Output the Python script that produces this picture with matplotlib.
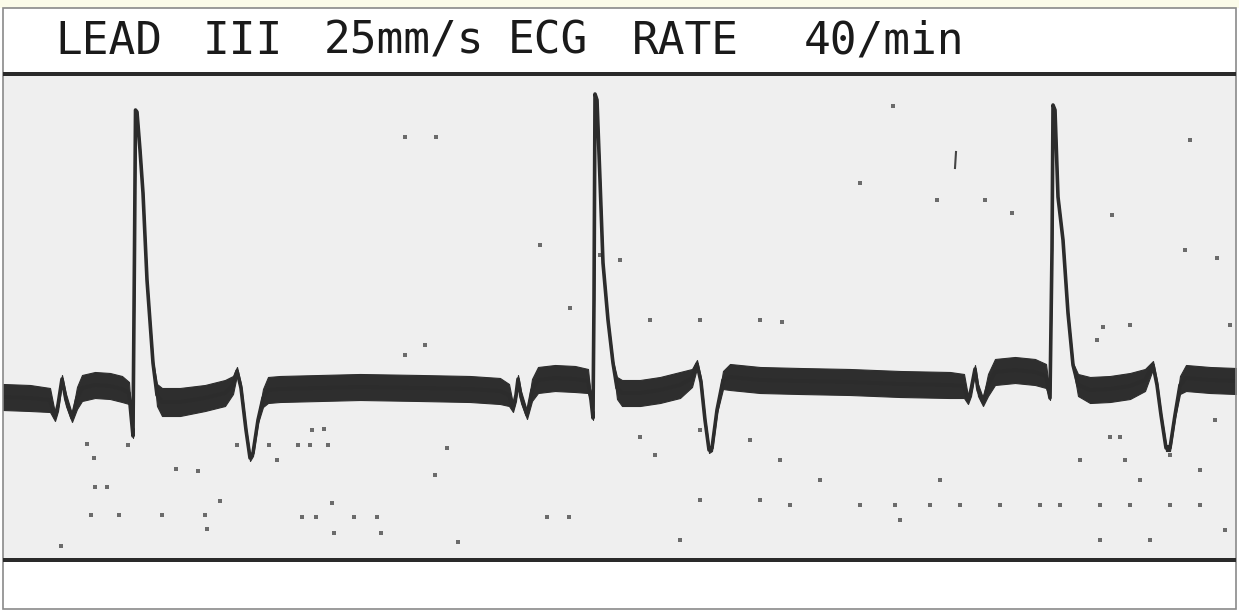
import matplotlib
matplotlib.use("Agg")
import matplotlib.pyplot as plt
from matplotlib.patches import Rectangle
import numpy as np

# ---------------- data ----------------
title_words = ["LEAD", "III", "25mm/s", "ECG", "RATE", "40/min"]
title_word_x = [55, 203, 324, 508, 632, 804]   # left edge of each word cell (px)

# ECG trace: sample index (x) and amplitude (counts, + = up)
sample = [3, 30, 50, 55, 58, 62, 66, 72, 77, 82, 95, 110, 122, 129, 131, 133,
          134.5, 135.5, 137, 140, 143, 147, 153, 157, 162, 180, 205, 225, 233,
          237, 241, 246, 250, 253, 258, 263, 268, 280, 320, 360, 420, 470, 500,
          509, 513, 516, 518, 521, 527, 532, 538, 555, 575, 588, 591, 593, 594,
          595, 597, 600, 603, 608, 613, 617, 622, 640, 660, 680, 692, 697, 701,
          705, 709, 712, 717, 723, 730, 760, 800, 850, 900, 950, 964, 968, 971,
          975, 978, 983, 988, 995, 1015, 1035, 1046, 1050, 1052, 1053, 1055,
          1058, 1063, 1068, 1073, 1078, 1090, 1110, 1130, 1145, 1153, 1157,
          1161, 1166, 1170, 1175, 1180, 1186, 1210, 1236]
amplitude = [3, 2, 0, -17, -5, 21, 0, -18, 2, 12, 15, 14, 11, 7, -15, -36,
             150, 290, 288, 250, 207, 120, 37, 5, -2, -2, 2, 7, 15,
             29, 12, -30, -58, -53, -20, 2, 10, 11, 12, 13, 12, 11, 9,
             5, -8, 5, 21, 3, -15, 10, 20, 22, 21, 19, 0, -18, 100,
             306, 300, 220, 137, 80, 37, 12, 7, 7, 10, 15, 22, 36, 18,
             -20, -50, -48, -10, 20, 23, 20, 19, 18, 16, 15, 14, 0, 10,
             31, 10, -2, 15, 28, 30, 28, 24, 2, 150, 295, 290,
             203, 160, 87, 35, 15, 10, 11, 14, 20, 35, 15,
             -15, -48, -48, -15, 15, 22, 20, 19]
# half-height of the noisy trace band (counts)
noise_env = [13, 13, 12, 4, 6, 4, 6, 4, 11, 13, 13, 13, 13, 11, 2, 2,
             1, 1, 1, 1, 1, 1, 2, 11, 14, 14, 13, 13, 9,
             4, 4, 2, 3, 3, 3, 9, 13, 13, 13, 13, 13, 13, 13,
             11, 4, 6, 4, 6, 4, 11, 13, 13, 13, 12, 2, 2, 1,
             1, 1, 1, 1, 1, 2, 11, 13, 13, 13, 13, 9, 4, 4,
             2, 3, 3, 3, 9, 13, 13, 13, 13, 13, 13, 12, 4, 6,
             4, 6, 4, 11, 13, 13, 13, 12, 2, 1, 1, 1,
             1, 1, 1, 2, 11, 13, 13, 13, 11, 4, 4,
             2, 3, 3, 3, 9, 13, 13, 13]

# scanner specks on the strip (x sample, amplitude counts)
speck_x = [405, 436, 540, 650, 700, 760, 782, 860, 893, 937, 985, 1012, 1112,
           1190, 1185, 1217, 1230, 1130, 1103, 1097, 405, 425, 570, 600, 620,
           87, 128, 94, 176, 198, 95, 107, 220, 237, 269, 298, 310, 328, 277,
           312, 324, 332, 205, 302, 316, 354, 377, 207, 334, 458, 61, 569, 547,
           447, 435, 119, 91, 162, 381, 640, 655, 700, 760, 790, 860, 895, 930,
           960, 1000, 1040, 1060, 1100, 1130, 1170, 1200, 1110, 1120, 1080,
           1125, 1140, 1170, 1200, 1215, 1225, 1100, 1150, 900, 940, 820, 780,
           750, 700, 680]
speck_y = [263, 263, 155, 80, 80, 80, 78, 217, 294, 200, 200, 187, 185,
           260, 150, 142, 75, 75, 73, 60, 45, 55, 92, 145, 140,
           -44, -45, -58, -69, -71, -87, -87, -101, -45, -45, -45, -45, -45, -60,
           -30, -29, -103, -115, -117, -117, -117, -117, -129, -133, -142, -146,
           -117, -117, -48, -75, -115, -115, -115, -133, -37, -55, -100, -100,
           -105, -105, -105, -105, -105, -105, -105, -105, -105, -105, -105,
           -105, -37, -37, -60, -60, -80, -55, -70, -20, -130, -140, -140,
           -120, -80, -80, -60, -40, -30, -140]
vert_dash_x = [955]
vert_dash_y = [(232, 248)]

# ---------------- figure ----------------
W, H = 1239, 611
fig = plt.figure(figsize=(W / 100, H / 100), dpi=100)
fig.patch.set_facecolor("#ffffff")

def frect(x0, y0, x1, y1, **kw):
    fig.patches.append(Rectangle((x0 / W, 1 - y1 / H), (x1 - x0) / W, (y1 - y0) / H,
                                 transform=fig.transFigure, figure=fig, **kw))

# cream strip on top
frect(0, 0, W, 8, facecolor="#fbfbe9", edgecolor="none")
# outer frame
frect(3, 8, 1236, 609, facecolor="none", edgecolor="#8a8a8a", linewidth=1.2)

# ECG panel
x0, x1, y0, y1 = 3, 1236, 76, 559
ax = fig.add_axes([x0 / W, 1 - y1 / H, (x1 - x0) / W, (y1 - y0) / H])
ax.set_facecolor("#efefef")
ax.set_xlim(3, 1236)
ax.set_ylim(400 - 559, 400 - 76)
for s in ax.spines.values():
    s.set_visible(False)
ax.set_xticks([])
ax.set_yticks([])

# specks
ax.scatter(speck_x, speck_y, s=7, marker="s", color="#4a4a4a", linewidths=0, alpha=0.8)
for vx, (va, vb) in zip(vert_dash_x, vert_dash_y):
    ax.plot([vx, vx + 1], [va, vb], color="#444444", linewidth=1.5)

xs = np.array(sample, dtype=float)
ys = np.array(amplitude, dtype=float)
hw = np.array(noise_env, dtype=float)
ax.fill_between(xs, ys - hw, ys + hw, color="#2e2e2e", linewidth=0.8, edgecolor="#2e2e2e")
ax.plot(xs, ys, color="#2c2c2c", linewidth=2.6, solid_joinstyle="round")

# dark separator lines
frect(3, 72.5, 1236, 76, facecolor="#2a2a2a", edgecolor="none")
frect(3, 558, 1236, 561.5, facecolor="#2a2a2a", edgecolor="none")

# title
for word, wx in zip(title_words, title_word_x):
    fig.text(wx / W, 1 - 53.5 / H, word, fontsize=32, family="DejaVu Sans Mono",
             color="#1a1a1a", ha="left", va="baseline")

fig.savefig("out.png", dpi=100, facecolor=fig.get_facecolor())
